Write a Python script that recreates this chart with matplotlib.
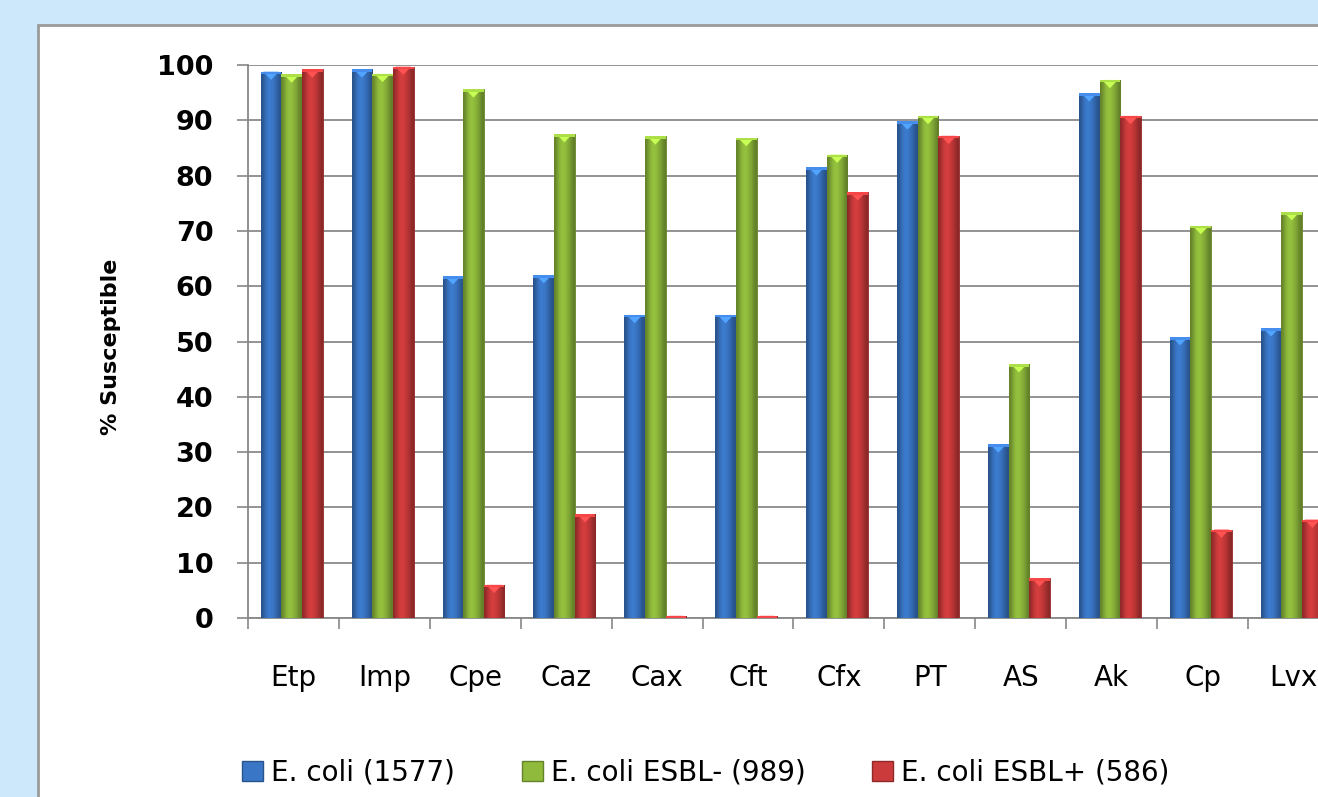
import numpy as np
import matplotlib
matplotlib.use("Agg")
import matplotlib.pyplot as plt
from matplotlib.patches import Rectangle, Polygon

# drug abbreviations on the x axis
drugs = ["Etp", "Imp", "Cpe", "Caz", "Cax", "Cft", "Cfx", "PT", "AS", "Ak", "Cp", "Lvx"]

# % susceptible per group
ecoli_all = [98.8, 99.2, 61.8, 62.0, 54.8, 54.8, 81.5, 89.8, 31.4, 94.9, 50.8, 52.4]
ecoli_esbl_neg = [98.3, 98.4, 95.6, 87.5, 87.1, 86.8, 83.8, 90.8, 45.9, 97.3, 70.9, 73.4]
ecoli_esbl_pos = [99.2, 99.7, 6.0, 18.8, 0.4, 0.4, 77.0, 87.2, 7.2, 90.8, 16.0, 17.8]

series_labels = ["E. coli (1577)", "E. coli ESBL- (989)", "E. coli ESBL+ (586)"]
series_colors = ["#3a76c6", "#8fba3c", "#cc3b3b"]

y_ticks = list(range(0, 101, 10))

W, H = 1318, 797
fig = plt.figure(figsize=(W / 100, H / 100), dpi=100)
fig.patch.set_facecolor("#cce8fa")

# white chart panel with gray border
panel = Rectangle((38 / W, -0.01), 1.0, 1 - 25 / H + 0.01, transform=fig.transFigure,
                  facecolor="white", edgecolor="#9a9a9a", linewidth=2, zorder=-5)
fig.patches.append(panel)

ax = fig.add_axes([248 / W, 1 - 618 / H, (1339 - 248) / W, 553 / H])
ax.set_facecolor("none")

x = np.arange(len(drugs))
bw = 0.227


def shade(rgb, f):
    return np.clip(np.array(rgb) * f, 0, 1)


profile = np.array([0.70, 0.88, 1.02, 1.05, 1.0, 0.92, 0.80, 0.68])

for i, (vals, col) in enumerate(zip([ecoli_all, ecoli_esbl_neg, ecoli_esbl_pos], series_colors)):
    rgb = matplotlib.colors.to_rgb(col)
    grad = np.array([[shade(rgb, f) for f in profile]])
    bars = ax.bar(x + (i - 1) * bw - 0.02, vals, width=bw, color=col, zorder=3,
                  edgecolor=shade(rgb, 0.7), linewidth=0.6, label=series_labels[i])
    for b, v in zip(bars, vals):
        x0 = b.get_x()
        x1 = x0 + b.get_width()
        im = ax.imshow(grad, extent=(x0, x1, 0, v), aspect="auto", zorder=3.5,
                       interpolation="bicubic")
        im.set_clip_path(b)
        # lighter bevel at the top of each bar
        th = min(1.5, v)
        tri = Polygon([(x0 + 0.12 * bw, v), (x1 - 0.12 * bw, v), ((x0 + x1) / 2, v - th)],
                      closed=True, facecolor=shade(rgb, 1.4), edgecolor="none", zorder=4)
        ax.add_patch(tri)
        cap = Rectangle((x0, v - 0.45), x1 - x0, 0.45, facecolor=shade(rgb, 1.2),
                        edgecolor="none", zorder=4)
        ax.add_patch(cap)

ax.set_xlim(-0.5, len(drugs) - 0.5)
ax.set_ylim(0, 100)

ax.set_yticks(y_ticks)
ax.set_yticklabels([str(v) for v in y_ticks], fontsize=19.5, fontweight="bold")
ax.tick_params(axis="y", direction="out", length=8, width=1.2, color="#888888", pad=17)

ax.set_xticks(x)
ax.set_xticklabels(drugs, fontsize=20)
ax.tick_params(axis="x", which="major", length=0, pad=33)
ax.set_xticks(np.arange(-0.5, len(drugs), 1), minor=True)
ax.tick_params(axis="x", which="minor", direction="out", length=8, width=1.2, color="#888888")

ax.grid(axis="y", color="#8a8a8a", linewidth=1.3, zorder=1)
ax.set_axisbelow(True)
for s in ["top", "right"]:
    ax.spines[s].set_visible(False)
for s in ["left", "bottom"]:
    ax.spines[s].set_color("#888888")
    ax.spines[s].set_linewidth(1.3)

ax.set_ylabel("% Susceptible", fontsize=16, fontweight="bold")
ax.yaxis.set_label_coords((121 - 248) / (1339 - 248), 0.49)

handles = [Rectangle((0, 0), 1, 1, facecolor=c, edgecolor=shade(matplotlib.colors.to_rgb(c), 0.7))
           for c in series_colors]
fig.legend(handles, series_labels, loc="center left", bbox_to_anchor=(242 / W, 1 - 773 / H),
           ncol=3, frameon=False, fontsize=20, handlelength=0.75, handleheight=0.75,
           handletextpad=0.3, columnspacing=2.4, borderpad=0, borderaxespad=0)

fig.savefig("out.png", dpi=100, facecolor=fig.get_facecolor())
